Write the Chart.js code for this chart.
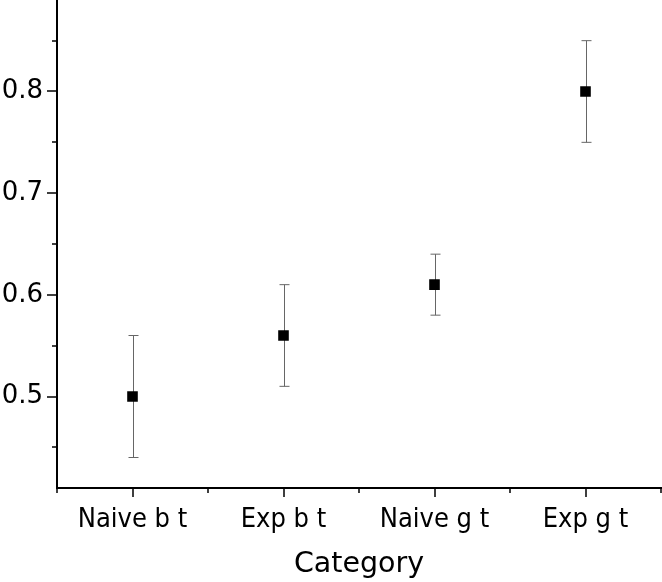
<!DOCTYPE html>
<html>
<head>
<meta charset="utf-8">
<script src="https://cdn.jsdelivr.net/npm/chart.js@4/dist/chart.umd.min.js"></script>
<style>
  html, body { margin: 0; padding: 0; background: #fff; }
  #wrap { width: 662px; height: 582px; }
</style>
</head>
<body>
<div id="wrap"><canvas id="chart"></canvas></div>
<script>
const categories = ["Naive b t", "Exp b t", "Naive g t", "Exp g t"];
const means = [0.50, 0.56, 0.61, 0.80];
const lower = [0.44, 0.51, 0.58, 0.75];
const upper = [0.56, 0.61, 0.64, 0.85];
const yTicks = [0.5, 0.6, 0.7, 0.8];
const yMinor = [0.45, 0.55, 0.65, 0.75, 0.85];

// error bars + tick marks, drawn through the scales
const errorBars = {
  id: "errorBars",
  beforeDatasetsDraw(chart) {
    const ctx = chart.ctx;
    const x = chart.scales.x;
    const y = chart.scales.y;
    ctx.save();
    ctx.strokeStyle = "#666";
    ctx.lineWidth = 1;
    categories.forEach((c, i) => {
      const px = Math.round(x.getPixelForValue(i)) + 0.5;
      const lo = y.getPixelForValue(lower[i]);
      const hi = y.getPixelForValue(upper[i]);
      ctx.beginPath();
      ctx.moveTo(px, lo);
      ctx.lineTo(px, hi);
      ctx.moveTo(px - 5, lo);
      ctx.lineTo(px + 5, lo);
      ctx.moveTo(px - 5, hi);
      ctx.lineTo(px + 5, hi);
      ctx.stroke();
    });
    ctx.restore();
  },
  afterDraw(chart) {
    const ctx = chart.ctx;
    const x = chart.scales.x;
    const y = chart.scales.y;
    const area = chart.chartArea;
    ctx.save();
    ctx.strokeStyle = "#000";
    ctx.lineWidth = 1.5;
    ctx.beginPath();
    yTicks.forEach(v => {
      const py = Math.round(y.getPixelForValue(v));
      ctx.moveTo(area.left - 10, py);
      ctx.lineTo(area.left, py);
    });
    yMinor.forEach(v => {
      const py = Math.round(y.getPixelForValue(v));
      ctx.moveTo(area.left - 5, py);
      ctx.lineTo(area.left, py);
    });
    categories.forEach((c, i) => {
      const px = Math.round(x.getPixelForValue(i));
      ctx.moveTo(px, area.bottom);
      ctx.lineTo(px, area.bottom + 9);
    });
    for (let i = 0; i <= categories.length; i++) {
      const px = Math.round(x.getPixelForValue(i - 0.5));
      ctx.moveTo(px, area.bottom);
      ctx.lineTo(px, area.bottom + 5);
    }
    ctx.stroke();
    ctx.restore();
  }
};

new Chart(document.getElementById("chart"), {
  type: "line",
  data: {
    labels: categories,
    datasets: [{
      data: means,
      showLine: false,
      pointStyle: "rect",
      pointRadius: 7.5,
      pointHoverRadius: 7.5,
      pointBackgroundColor: "#000",
      pointBorderColor: "#000",
      pointBorderWidth: 0
    }]
  },
  options: {
    responsive: true,
    maintainAspectRatio: false,
    animation: false,
    layout: { autoPadding: false, padding: { top: 0, right: 1, left: 0, bottom: 0 } },
    plugins: {
      legend: { display: false },
      tooltip: { enabled: false }
    },
    scales: {
      x: {
        offset: true,
        grid: { display: false, drawTicks: false, tickLength: 0 },
        border: { display: true, color: "#000", width: 2 },
        ticks: { color: "#000", font: { family: "'DejaVu Sans Condensed', 'DejaVu Sans'", size: 27 }, padding: 16, maxRotation: 0 },
        title: { display: true, text: "Category", color: "#000", font: { family: "DejaVu Sans", size: 28.5 }, padding: { top: 2, bottom: 0 } },
        afterFit(scale) { scale.height = 94; scale.paddingLeft = 0; scale.paddingRight = 0; }
      },
      y: {
        min: 0.41,
        max: 0.89,
        grid: { display: false, drawTicks: false, tickLength: 0 },
        border: { display: true, color: "#000", width: 2 },
        ticks: {
          color: "#000",
          font: { family: "DejaVu Sans", size: 26 },
          padding: 14,
          callback: v => v.toFixed(1)
        },
        afterBuildTicks(scale) { scale.ticks = yTicks.map(v => ({ value: v })); },
        afterFit(scale) { scale.width = 57; scale.paddingTop = 0; scale.paddingBottom = 0; }
      }
    }
  },
  plugins: [errorBars]
});
</script>
</body>
</html>
